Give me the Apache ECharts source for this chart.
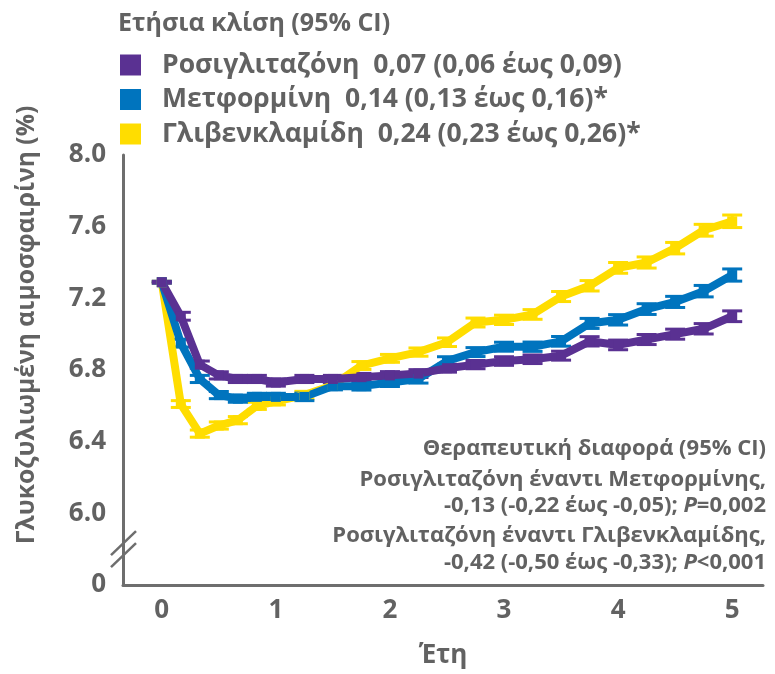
<!DOCTYPE html>
<html>
<head>
<meta charset="utf-8">
<script src="https://cdn.jsdelivr.net/npm/echarts@6/dist/echarts.min.js"></script>
<style>
  html, body { margin: 0; padding: 0; background: #fff; }
  #chart { width: 775px; height: 674px; }
</style>
</head>
<body>
<div id="chart"></div>
<script>
// Visit times in years: every 2 months in year 1, then quarterly to year 5
const years = [0, 0.1667, 0.3333, 0.5, 0.6667, 0.8333, 1,
  1.25, 1.5, 1.75, 2, 2.25, 2.5, 2.75, 3, 3.25, 3.5, 3.75, 4, 4.25, 4.5, 4.75, 5];

// Mean HbA1c (%) per treatment arm
const rosiglitazone = [7.29, 7.10, 6.83, 6.77, 6.75, 6.75, 6.73,
  6.75, 6.75, 6.76, 6.77, 6.78, 6.81, 6.83, 6.85, 6.86, 6.88, 6.96, 6.94, 6.97, 7.00, 7.03, 7.10];
const metformin = [7.29, 6.95, 6.75, 6.66, 6.64, 6.65, 6.65,
  6.65, 6.71, 6.71, 6.73, 6.75, 6.85, 6.90, 6.93, 6.93, 6.96, 7.06, 7.08, 7.14, 7.18, 7.24, 7.33];
const glyburide = [7.29, 6.61, 6.445, 6.49, 6.52, 6.60, 6.625,
  6.66, 6.715, 6.825, 6.865, 6.90, 6.955, 7.065, 7.08, 7.11, 7.21, 7.27, 7.37, 7.40, 7.48, 7.58, 7.63];

// Half-width of the 95% CI at each visit
const rosiglitazoneCI = [0.005, 0.022, 0.02, 0.02, 0.02, 0.02, 0.02,
  0.02, 0.02, 0.021, 0.021, 0.022, 0.022, 0.023, 0.024, 0.024, 0.025, 0.026, 0.027, 0.028, 0.028, 0.029, 0.03];
const metforminCI = [0.005, 0.022, 0.02, 0.02, 0.02, 0.02, 0.02,
  0.021, 0.021, 0.022, 0.022, 0.023, 0.024, 0.025, 0.025, 0.026, 0.027, 0.028, 0.029, 0.03, 0.031, 0.032, 0.034];
const glyburideCI = [0.005, 0.019, 0.02, 0.02, 0.02, 0.02, 0.02,
  0.021, 0.021, 0.022, 0.022, 0.023, 0.024, 0.025, 0.026, 0.027, 0.028, 0.029, 0.03, 0.031, 0.032, 0.033, 0.035];

const seriesNames = ['Ροσιγλιταζόνη', 'Μετφορμίνη', 'Γλιβενκλαμίδη'];
const slopeLabels = ['0,07 (0,06 έως 0,09)', '0,14 (0,13 έως 0,16)*', '0,24 (0,23 έως 0,26)*'];
const xTickValues = [0, 1, 2, 3, 4, 5];
const yTickLabels = ['0', '6.0', '6.4', '6.8', '7.2', '7.6', '8.0'];

const legendTitle = 'Ετήσια κλίση (95% CI)';
const yAxisTitle = 'Γλυκοζυλιωμένη αιμοσφαιρίνη (%)';
const xAxisTitle = 'Έτη';
const diffTitle = 'Θεραπευτική διαφορά (95% CI)';
const diffRows = [
  ['Ροσιγλιταζόνη έναντι Μετφορμίνης,', '-0,13 (-0,22 έως -0,05); ', 'P', '=0,002'],
  ['Ροσιγλιταζόνη έναντι Γλιβενκλαμίδης,', '-0,42 (-0,50 έως -0,33); ', 'P', '<0,001']
];

const COLORS = ['#5A3192', '#0074BE', '#FFDD00'];
const GREY = '#626262';
const AXIS_GREY = '#6E6E6E';
const FONT = '"Open Sans", "Noto Sans", sans-serif';

const Y_MIN = 5.6, Y_MAX = 8.0, Y_STEP = 0.4, Y_BREAK = 5.8;
const X_MIN = -0.34, X_MAX = 5.27;

const values = [rosiglitazone, metformin, glyburide];
const cis = [rosiglitazoneCI, metforminCI, glyburideCI];

function lineData(vals) {
  return years.map((t, i) => [t, vals[i]]);
}
function ciData(vals, ci) {
  return years.map((t, i) => [t, vals[i] - ci[i], vals[i] + ci[i]]);
}

function renderErrorBar(params, api) {
  const lo = api.coord([api.value(0), api.value(1)]);
  const hi = api.coord([api.value(0), api.value(2)]);
  const half = 10;
  const style = { stroke: api.visual('color'), lineWidth: 3 };
  return {
    type: 'group',
    children: [
      { type: 'line', shape: { x1: lo[0], y1: lo[1], x2: hi[0], y2: hi[1] }, style },
      { type: 'line', shape: { x1: hi[0] - half, y1: hi[1], x2: hi[0] + half, y2: hi[1] }, style },
      { type: 'line', shape: { x1: lo[0] - half, y1: lo[1], x2: lo[0] + half, y2: lo[1] }, style }
    ]
  };
}

// Draw order: yellow at the back, purple in front
const drawOrder = [2, 1, 0];
const series = [];
drawOrder.forEach(k => {
  series.push({
    name: seriesNames[k] + ' CI',
    type: 'custom',
    renderItem: renderErrorBar,
    itemStyle: { color: COLORS[k] },
    data: ciData(values[k], cis[k]),
    encode: { x: 0, y: [1, 2] },
    silent: true
  });
  series.push({
    name: seriesNames[k],
    type: 'line',
    data: lineData(values[k]),
    color: COLORS[k],
    lineStyle: { width: 8, color: COLORS[k] },
    symbol: 'rect',
    symbolSize: 10,
    showAllSymbol: true,
    itemStyle: { color: COLORS[k] }
  });
});

const chart = echarts.init(document.getElementById('chart'), null, { renderer: 'canvas' });

const option = {
  animation: false,
  backgroundColor: '#ffffff',
  textStyle: { fontFamily: FONT, fontWeight: 'bold', color: GREY },
  title: {
    text: legendTitle,
    left: 118,
    top: 11,
    padding: 0,
    textStyle: { fontFamily: FONT, fontWeight: 'bold', fontSize: 25, lineHeight: 26, color: GREY }
  },
  legend: {
    data: seriesNames,
    orient: 'vertical',
    left: 120,
    top: 50,
    padding: 0,
    itemWidth: 21,
    itemHeight: 21,
    itemGap: 4.5,
    icon: 'rect',
    selectedMode: false,
    formatter: name => name + '  ' + slopeLabels[seriesNames.indexOf(name)],
    textStyle: {
      fontFamily: FONT, fontWeight: 'bold', fontSize: 26.5, color: GREY,
      lineHeight: 30, padding: [0, 0, 0, 16]
    }
  },
  grid: { left: 123, right: 12, top: 155, bottom: 74, containLabel: false },
  xAxis: {
    type: 'value',
    min: X_MIN,
    max: X_MAX,
    name: xAxisTitle,
    nameLocation: 'middle',
    nameGap: 58,
    nameTextStyle: { fontFamily: FONT, fontWeight: 'bold', fontSize: 26, color: GREY },
    axisLine: { show: true, lineStyle: { color: AXIS_GREY, width: 3 } },
    axisTick: { show: false },
    splitLine: { show: false },
    axisLabel: {
      customValues: xTickValues,
      margin: 13,
      fontFamily: FONT, fontWeight: 'bold', fontSize: 26, color: GREY,
      formatter: v => String(v)
    }
  },
  yAxis: {
    type: 'value',
    min: Y_MIN,
    max: Y_MAX,
    interval: Y_STEP,
    axisLine: { show: true, onZero: false, lineStyle: { color: AXIS_GREY, width: 3 } },
    axisTick: { show: false },
    splitLine: { show: false },
    axisLabel: {
      margin: 17,
      fontFamily: FONT, fontWeight: 'bold', fontSize: 26, color: GREY,
      formatter: v => yTickLabels[Math.round((v - Y_MIN) / Y_STEP)]
    }
  },
  series: series
};

chart.setOption(option);

// Axis break slashes, rotated y-axis title and the treatment-difference note
const p = chart.convertToPixel({ gridIndex: 0 }, [X_MIN, Y_BREAK]);
const bx = p[0], by = p[1];
const slashStyle = { stroke: AXIS_GREY, lineWidth: 2.5 };
const noteStyle = { fontFamily: FONT, fontWeight: 'bold', fontSize: 22, fill: GREY };

function noteLine(y, row) {
  return {
    type: 'text', z: 100, x: 766, y: y,
    style: Object.assign({
      text: '{a|' + row[1] + '}{i|' + row[2] + '}{a|' + row[3] + '}',
      align: 'right', verticalAlign: 'middle',
      rich: {
        a: noteStyle,
        i: Object.assign({ fontStyle: 'italic' }, noteStyle)
      }
    }, noteStyle)
  };
}
function plainLine(y, text) {
  return {
    type: 'text', z: 100, x: 766, y: y,
    style: Object.assign({ text: text, align: 'right', verticalAlign: 'middle' }, noteStyle)
  };
}

chart.setOption({
  graphic: [
    { type: 'line', z: 100, shape: { x1: bx - 12, y1: by + 6, x2: bx + 13, y2: by - 18 }, style: slashStyle },
    { type: 'line', z: 100, shape: { x1: bx - 12, y1: by + 18, x2: bx + 13, y2: by - 6 }, style: slashStyle },
    {
      type: 'text', z: 100, x: 27, y: 325, rotation: Math.PI / 2,
      style: {
        text: yAxisTitle, fontFamily: FONT, fontWeight: 'bold', fontSize: 24.7,
        fill: GREY, align: 'center', verticalAlign: 'middle'
      }
    },
    plainLine(449, diffTitle),
    plainLine(480, diffRows[0][0]),
    noteLine(506, diffRows[0]),
    plainLine(536, diffRows[1][0]),
    noteLine(563, diffRows[1])
  ]
});
</script>
</body>
</html>
